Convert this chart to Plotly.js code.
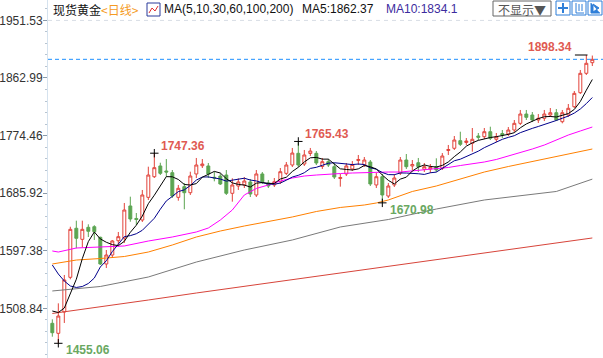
<!DOCTYPE html>
<html><head><meta charset="utf-8">
<script src="https://cdn.plot.ly/plotly-3.0.1.min.js"></script>
<style>html,body{margin:0;padding:0;background:#fff;}#chart{width:603px;height:358px;}</style>
</head><body><div id="chart"></div>
<script>
// ---- data ----
const openP = [1485.8,1470.4,1503.2,1556.5,1631.9,1614.9,1633.4,1634.3,1618.0,1577.0,
1590.8,1612.8,1617.0,1666.2,1647.0,1644.6,1679.5,1711.2,1727.7,1720.0,
1717.4,1679.5,1695.9,1686.6,1715.4,1728.1,1727.7,1710.3,1712.3,1713.8,
1685.7,1696.9,1698.5,1703.1,1683.1,1715.4,1701.5,1698.5,1703.5,1716.4,
1729.2,1747.2,1730.7,1746.9,1747.2,1726.9,1734.3,1726.6,1708.4,1715.4,
1723.1,1736.1,1729.2,1733.8,1698.5,1711.2,1681.5,1698.5,1716.9,1736.9,
1727.7,1732.7,1722.6,1723.1,1726.6,1724.1,1751.5,1754.9,1766.6,1763.8,
1762.6,1773.8,1772.7,1780.4,1768.7,1777.6,1776.9,1783.0,1793.3,1807.6,
1806.1,1798.4,1801.0,1806.1,1809.6,1795.8,1806.1,1818.8,1840.4,1870.2,1886.5];
const highP = [1491.9,1516.5,1560.1,1634.3,1643.6,1643.6,1638.0,1636.6,1619.0,1598.5,
1613.9,1626.2,1670.8,1680.5,1655.4,1690.8,1726.6,1747.36,1732.7,1738.4,
1721.5,1698.5,1701.5,1718.9,1740.0,1738.4,1732.3,1718.9,1716.4,1721.5,
1708.8,1708.7,1710.7,1707.7,1721.5,1718.4,1706.1,1709.2,1724.6,1733.8,
1755.4,1765.43,1752.3,1755.4,1750.7,1740.0,1738.4,1732.3,1715.4,1732.3,
1735.3,1744.6,1741.5,1736.9,1716.9,1715.4,1701.5,1715.4,1741.5,1746.1,
1736.9,1740.0,1732.3,1730.7,1739.5,1747.6,1760.0,1773.8,1780.4,1770.7,
1786.1,1778.4,1786.1,1788.1,1778.4,1783.0,1787.6,1798.4,1813.8,1813.8,
1810.7,1807.6,1813.8,1816.8,1815.3,1813.8,1823.0,1843.0,1875.3,1898.34,1897.5];
const lowP = [1465.2,1455.06,1486.3,1553.5,1601.1,1602.6,1618.5,1613.9,1575.5,1570.8,
1586.2,1606.2,1609.3,1642.0,1637.0,1641.6,1675.4,1709.2,1713.8,1711.2,
1678.5,1674.3,1661.1,1683.1,1709.2,1724.6,1709.2,1704.1,1698.5,1683.1,
1672.8,1690.8,1693.8,1680.0,1680.0,1700.0,1693.8,1695.4,1700.0,1713.8,
1726.1,1726.1,1727.7,1743.0,1729.2,1723.1,1726.1,1707.7,1695.9,1712.3,
1720.0,1729.2,1726.1,1696.9,1693.8,1670.98,1678.5,1695.4,1713.8,1723.1,
1721.5,1718.4,1718.4,1716.9,1718.4,1721.5,1744.6,1752.3,1758.4,1760.0,
1749.7,1767.6,1769.2,1767.6,1764.6,1770.7,1773.8,1779.9,1790.7,1798.4,
1795.3,1793.8,1796.8,1803.0,1796.8,1793.3,1803.0,1816.8,1838.4,1867.6,1881.4];
const closeP = [1471.3,1497.0,1552.4,1630.3,1616.5,1630.3,1627.3,1626.6,1577.0,1590.8,
1612.4,1619.0,1660.0,1646.2,1645.5,1683.1,1713.8,1725.1,1716.4,1718.4,
1681.5,1693.4,1686.6,1712.3,1729.2,1730.7,1715.4,1709.2,1700.0,1685.7,
1698.5,1703.1,1704.6,1684.6,1715.4,1703.5,1696.9,1703.5,1718.9,1729.2,
1747.6,1729.2,1744.6,1750.7,1732.3,1734.3,1729.2,1710.7,1710.0,1727.7,
1730.0,1737.7,1736.9,1700.0,1711.2,1683.1,1696.9,1709.2,1736.9,1726.6,
1730.0,1726.6,1726.6,1725.4,1721.5,1743.0,1753.0,1767.6,1761.0,1766.1,
1768.7,1771.8,1780.4,1770.3,1772.7,1775.3,1783.0,1793.3,1807.6,1802.5,
1798.4,1801.0,1807.6,1809.6,1798.4,1809.6,1816.4,1839.4,1870.2,1885.6,1891.7];

// moving-average values before enough visible bars exist
const ma5Head = [1504.7,1502.4,1509.3,1532.4];
const ma10Head = [1575.5,1561.6,1550.8,1543.2,1540.9,1542.4,1547.0,1555.4,1572.4];
// long moving averages at sample bars
const ma30Idx = [0,1,4,8,12,16,20,24,26,28,30,32,34,36,38,40,42,44,46,48,50,52,54,56,58,60,62,64,66,68,70,72,74,76,78,80,82,84,86,88,90];
const ma30Val = [1597.0,1595.4,1601.6,1603.1,1604.7,1612.3,1618.5,1626.2,1632.3,1644.6,1660.0,1683.1,1693.1,1698.5,1704.6,1709.2,1712.3,1713.8,1715.4,1716.1,1716.9,1717.7,1718.4,1718.4,1718.4,1720.0,1721.5,1723.0,1725.4,1728.4,1730.7,1733.8,1737.7,1743.0,1747.7,1753.8,1759.9,1767.6,1775.3,1781.5,1787.6];
const ma60Idx = [0,4,8,12,16,20,24,28,32,36,40,44,48,52,54,56,58,60,64,68,72,76,80,84,88,90];
const ma60Val = [1577.0,1583.1,1585.4,1588.5,1595.4,1606.2,1618.5,1627.7,1635.4,1642.3,1649.3,1657.7,1663.9,1667.7,1670.8,1675.4,1682.3,1688.5,1696.9,1707.7,1718.4,1726.9,1734.6,1741.5,1749.2,1753.8];
const ma100Idx = [0,8,16,24,32,40,48,56,64,72,84,90];
const ma100Val = [1535.5,1542.4,1557.0,1580.0,1598.5,1613.9,1633.9,1645.4,1661.5,1675.4,1688.5,1707.5];
const ma200Idx = [0,8,16,24,41,58,75,90];
const ma200Val = [1500.9,1510.9,1521.6,1532.4,1553.9,1575.4,1597.0,1617.0];

const yTickVals = [1508.84,1597.38,1685.92,1774.46,1862.99,1951.53];
const yTickText = ['1508.84','1597.38','1685.92','1774.46','1862.99','1951.53'];
const highMarks = [17,41,89];
const lowMarks = [1,55];
const headerTexts = ['现货黄金','<日线>','MA(5,10,30,60,100,200)','MA5:1862.37','MA10:1834.1','不显示▼'];

// ---- build ----
const idx = closeP.map((_, i) => i);
function movAvg(n, head) {
  return closeP.map((_, i) => {
    if (i < n - 1) return head[i];
    let s = 0; for (let k = i - n + 1; k <= i; k++) s += closeP[k];
    return s / n;
  });
}
const ma5 = movAvg(5, ma5Head);
const ma10 = movAvg(10, ma10Head);

const RED = '#e2433a', GREEN = '#5ca552';
const W = 603, H = 358, L = 48;
const px = x => (x - L) / (W - L);
const py = y => 1 - y / H;

const traces = [
  {type:'scatter', mode:'lines', x: ma200Idx, y: ma200Val, line:{color:'#d7443a', width:1}, hoverinfo:'skip'},
  {type:'scatter', mode:'lines', x: ma100Idx, y: ma100Val, line:{color:'#7a7a7a', width:1}, hoverinfo:'skip'},
  {type:'scatter', mode:'lines', x: ma60Idx, y: ma60Val, line:{color:'#ff8000', width:1}, hoverinfo:'skip'},
  {type:'scatter', mode:'lines', x: ma30Idx, y: ma30Val, line:{color:'#ff00ff', width:1}, hoverinfo:'skip'},
  {type:'candlestick', x: idx, open: openP, high: highP, low: lowP, close: closeP,
   increasing:{line:{color:RED, width:1}, fillcolor:'#ffffff'},
   decreasing:{line:{color:GREEN, width:1}, fillcolor:GREEN},
   whiskerwidth:0, hoverinfo:'skip'},
  {type:'scatter', mode:'lines', x: idx, y: ma10, line:{color:'#00008b', width:1}, hoverinfo:'skip'},
  {type:'scatter', mode:'lines', x: idx, y: ma5, line:{color:'#000000', width:1}, hoverinfo:'skip'},
  {type:'scatter', mode:'markers', x: highMarks.slice(0,2).concat(lowMarks),
   y: highMarks.slice(0,2).map(i => highP[i]).concat(lowMarks.map(i => lowP[i])),
   marker:{symbol:'cross-thin', size:6, line:{color:'#000', width:1}}, hoverinfo:'skip'}
];

const lastIdx = closeP.length - 1;
const topHi = highMarks[2];
const annotations = [];
highMarks.forEach((i, k) => {
  const last = k === 2;
  annotations.push({x: i, y: highP[i], xref:'x', yref:'y', text: highP[i].toFixed(2), showarrow:false,
    xanchor: last ? 'right' : 'left', yanchor:'middle', xshift: last ? -12 : 5, yshift: last ? 8 : 7,
    font:{family:'Liberation Sans, Arial, sans-serif', size:12, color:'#e05a52', weight:'bold'}});
});
lowMarks.forEach(i => {
  annotations.push({x: i, y: lowP[i], xref:'x', yref:'y', text: lowP[i].toFixed(2), showarrow:false,
    xanchor:'left', yanchor:'middle', xshift:6, yshift:-7,
    font:{family:'Liberation Sans, Arial, sans-serif', size:12, color:'#6aa862', weight:'bold'}});
});
// header
const hdrFont = {family:'Noto Sans CJK SC, Liberation Sans, sans-serif', size:12, color:'#111'};
annotations.push({xref:'paper', yref:'paper', x: px(51), y: py(9), xanchor:'left', yanchor:'middle', showarrow:false, text: headerTexts[0], font: hdrFont});
annotations.push({xref:'paper', yref:'paper', x: px(99), y: py(9), xanchor:'left', yanchor:'middle', showarrow:false, text: headerTexts[1].replace('<','&lt;').replace('>','&gt;'), font:{family:'Noto Sans CJK SC, sans-serif', size:12, color:'#f59a23'}});
annotations.push({xref:'paper', yref:'paper', x: px(162), y: py(9), xanchor:'left', yanchor:'middle', showarrow:false, text: headerTexts[2], font:{family:'Liberation Sans, Arial, sans-serif', size:12, color:'#111'}});
annotations.push({xref:'paper', yref:'paper', x: px(300), y: py(9), xanchor:'left', yanchor:'middle', showarrow:false, text: headerTexts[3], font:{family:'Liberation Sans, Arial, sans-serif', size:12, color:'#111'}});
annotations.push({xref:'paper', yref:'paper', x: px(384), y: py(9), xanchor:'left', yanchor:'middle', showarrow:false, text: headerTexts[4], font:{family:'Liberation Sans, Arial, sans-serif', size:12, color:'#3c2b9e'}});
annotations.push({xref:'paper', yref:'paper', x: px(522), y: py(9), xanchor:'center', yanchor:'middle', showarrow:false, text: headerTexts[5], font:{family:'Noto Sans CJK SC, sans-serif', size:12, color:'#555'}});

const shapes = [
  {type:'line', xref:'paper', yref:'y', x0:0, x1:1, y0: yTickVals[5], y1: yTickVals[5], line:{color:'#d8dde5', width:1, dash:'4px,4px'}},
  {type:'line', xref:'paper', yref:'y', x0:0, x1:1, y0: closeP[lastIdx], y1: closeP[lastIdx], line:{color:'#1e90ff', width:1, dash:'4px,3px'}},
  {type:'line', xref:'x', yref:'y', x0: topHi - 1.9, x1: topHi + 0.2, y0: highP[topHi], y1: highP[topHi], line:{color:'#000', width:1}},
  // header icon
  {type:'rect', xref:'paper', yref:'paper', x0: px(147), x1: px(160), y0: py(16), y1: py(3), line:{color:'#2a3a9a', width:1}, fillcolor:'#fff'},
  {type:'path', xref:'paper', yref:'paper', path:`M ${px(149)} ${py(13)} L ${px(152)} ${py(8)} L ${px(155)} ${py(11)} L ${px(158)} ${py(6)}`, line:{color:'#e03030', width:1}},
  // button
  {type:'rect', xref:'paper', yref:'paper', x0: px(493), x1: px(551), y0: py(16), y1: py(1), line:{color:'#666', width:1}, fillcolor:'#fff'},
  // icons
  {type:'rect', xref:'paper', yref:'paper', x0: px(556), x1: px(570), y0: py(15), y1: py(1), line:{color:'#2f7fd8', width:1}, fillcolor:'#fff'},
  {type:'rect', xref:'paper', yref:'paper', x0: px(572), x1: px(586), y0: py(15), y1: py(1), line:{color:'#2f7fd8', width:1}, fillcolor:'#fff'},
  {type:'rect', xref:'paper', yref:'paper', x0: px(588), x1: px(602), y0: py(15), y1: py(1), line:{color:'#2f7fd8', width:1}, fillcolor:'#fff'},
  {type:'path', xref:'paper', yref:'paper', path:`M ${px(563)} ${py(3)} L ${px(563)} ${py(13)} M ${px(558)} ${py(8)} L ${px(568)} ${py(8)}`, line:{color:'#2f7fd8', width:2}},
  {type:'path', xref:'paper', yref:'paper', path:`M ${px(576)} ${py(3)} L ${px(576)} ${py(13)} L ${px(584)} ${py(13)} M ${px(579)} ${py(4)} L ${px(579)} ${py(11)} M ${px(582)} ${py(4)} L ${px(582)} ${py(11)}`, line:{color:'#2f7fd8', width:1}},
  {type:'path', xref:'paper', yref:'paper', path:`M ${px(591)} ${py(3)} L ${px(591)} ${py(13)} L ${px(600)} ${py(13)} M ${px(593)} ${py(4)} L ${px(599)} ${py(8)} L ${px(593)} ${py(12)} Z`, line:{color:'#2f7fd8', width:1}, fillcolor:'#2f7fd8'}
];

const layout = {
  width: W, height: H,
  margin: {l: L, r: 0, t: 0, b: 0},
  paper_bgcolor:'#fff', plot_bgcolor:'#fff',
  showlegend:false,
  font:{family:'Liberation Sans, Arial, sans-serif', size:12, color:'#333'},
  xaxis:{range:[-0.72, 91.78], showgrid:false, zeroline:false, showticklabels:false, ticks:'', showline:false, rangeslider:{visible:false}, fixedrange:true},
  yaxis:{range:[1432.45, 1982.91], tickmode:'array', tickvals: yTickVals, ticktext: yTickText,
    showgrid:false, zeroline:false, showline:true, linecolor:'#d5e2ee', linewidth:1,
    ticks:'outside', ticklen:4, tickcolor:'#8a9aaa', tickfont:{size:12, color:'#333'},
    ticklabelstandoff:-2,
    minor:{tick0: 1508.84, dtick: 17.708, ticks:'outside', ticklen:2, tickcolor:'#b8c4d0', showgrid:false}},
  annotations, shapes
};
Plotly.newPlot('chart', traces, layout, {displayModeBar:false, staticPlot:true});
</script>
</body></html>
